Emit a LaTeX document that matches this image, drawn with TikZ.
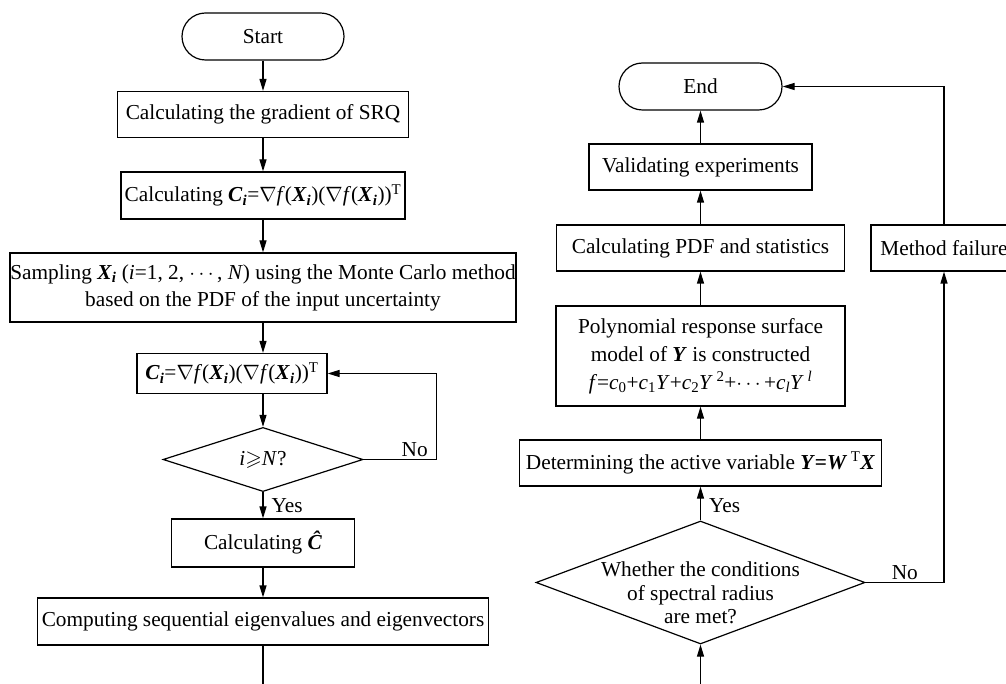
\documentclass[tikz,border=0pt]{standalone}
\usepackage{amsmath,amssymb}
\usepackage{fontspec}
\setmainfont{Liberation Serif}
\usetikzlibrary{arrows.meta,shapes.geometric,shapes.misc,calc}
\newcommand{\bi}[1]{\textbf{\textit{#1}}}
\begin{document}
\begin{tikzpicture}[x=1pt,y=-1pt,
  every node/.style={font=\fontsize{21.3}{27}\selectfont, inner sep=0pt},
  box/.style={draw, line width=1.2pt, rectangle, align=center},
  term/.style={draw, line width=1.2pt, rounded rectangle, minimum width=162pt, minimum height=47pt},
  dec/.style={draw, line width=1.2pt, diamond},
  arr/.style={line width=1.2pt, -{Triangle[length=12pt,width=7pt]}},
  conn/.style={line width=1.2pt},
  lbl/.style={inner sep=2pt},
  ylbl/.style={inner sep=0pt, right=8pt}
]
\useasboundingbox (0,0) rectangle (1006,684);
\clip (0,0) rectangle (1006,684);

% left column
\node[term] (start) at (263,36.5) {Start};
\node[box, minimum width=291pt, minimum height=46pt] (grad) at (263,114.5) {Calculating the gradient of SRQ};
\node[box, minimum width=284pt, minimum height=47pt] (ci) at (263,195.5)
  {Calculating \bi{C}\textsubscript{\bi{i}}=$\nabla$\textit{f}(\bi{X}\textsubscript{\bi{i}})($\nabla$\textit{f}(\bi{X}\textsubscript{\bi{i}}))\textsuperscript{T}};
\node[box, minimum width=506pt, minimum height=69pt] (samp) at (263,287.5)
  {Sampling \bi{X}\textsubscript{\bi{i}} (\textit{i}=1, 2, $\cdots$, \textit{N}) using the Monte Carlo method\\based on the PDF of the input uncertainty};
\node[box, minimum width=190pt, minimum height=40pt] (loop) at (232,373.5)
  {\bi{C}\textsubscript{\bi{i}}=$\nabla$\textit{f}(\bi{X}\textsubscript{\bi{i}})($\nabla$\textit{f}(\bi{X}\textsubscript{\bi{i}}))\textsuperscript{T}};
\node[dec, minimum width=200pt, minimum height=55pt] (dia) at (263,459.5) {\raisebox{-4pt}{\textit{i}$\geqslant$\textit{N}?}};
\node[box, minimum width=183pt, minimum height=48pt] (chat) at (263,543) {Calculating \bi{Ĉ}};
\node[box, minimum width=451pt, minimum height=47pt] (eig) at (263,621.5) {Computing sequential eigenvalues and eigenvectors};
\coordinate (lbot) at (263,700);

% right column
\node[term, minimum width=163pt] (end) at (700.5,86.5) {End};
\node[box, minimum width=223pt, minimum height=46pt] (val) at (700.5,167) {Validating experiments};
\node[box, minimum width=288pt, minimum height=46pt] (pdf) at (700.5,248) {Calculating PDF and statistics};
\node[box, minimum width=289pt, minimum height=100pt, font=\fontsize{21.3}{28}\selectfont] (poly) at (700.5,356)
  {Polynomial response surface\\model of \bi{Y} is constructed\\
   \textit{f}=\textit{c}\textsubscript{0}+\textit{c}\textsubscript{1}\textit{Y}+\textit{c}\textsubscript{2}\textit{Y}\,\textsuperscript{2}+$\cdots$+\textit{c}\textsubscript{\textit{l}}\textit{Y}\,\textsuperscript{\textit{l}}};
\node[box, minimum width=362pt, minimum height=46pt] (det) at (700.5,463)
  {Determining the active variable \bi{Y}\textbf{=}\bi{W}\,\textsuperscript{T}\bi{X}};
\node[dec, minimum width=329pt, minimum height=123pt] (rdia) at (700.5,582.5) {};
\node[align=center, font=\fontsize{21.3}{23.5}\selectfont] (rdiatext) at (700.5,593)
  {Whether the conditions\\of spectral radius\\are met?};
\node[box, minimum width=146pt, minimum height=46pt] (fail) at (944,248) {Method failure};
\coordinate (rbot) at (700.5,700);

% left connectors
\draw[arr] (start.south) -- (grad.north);
\draw[arr] (grad.south) -- (ci.north);
\draw[arr] (ci.south) -- (samp.north);
\draw[arr] (samp.south) -- (samp.south |- loop.north);
\draw[arr] (dia.north |- loop.south) -- (dia.north);
\draw[arr] (dia.south) -- node[ylbl, pos=0.5] {Yes} (chat.north);
\draw[arr] (dia.east) -- node[lbl, above, pos=0.7] {No} ++(73,0) |- (loop.east);
\draw[arr] (chat.south) -- (eig.north);
\draw[conn] (eig.south) -- (lbot);

% right connectors
\draw[arr] (rbot) -- (rdia.south);
\draw[arr] (rdia.north) -- node[ylbl, pos=0.45] {Yes} (det.south);
\draw[arr] (det.north) -- (poly.south);
\draw[arr] (poly.north) -- (pdf.south);
\draw[arr] (pdf.north) -- (val.south);
\draw[arr] (val.north) -- (end.south);
\draw[arr] (rdia.east) -| node[lbl, above, pos=0.25] {No} (fail.south);
\draw[arr] (fail.north) |- (end.east);
\end{tikzpicture}
\end{document}
